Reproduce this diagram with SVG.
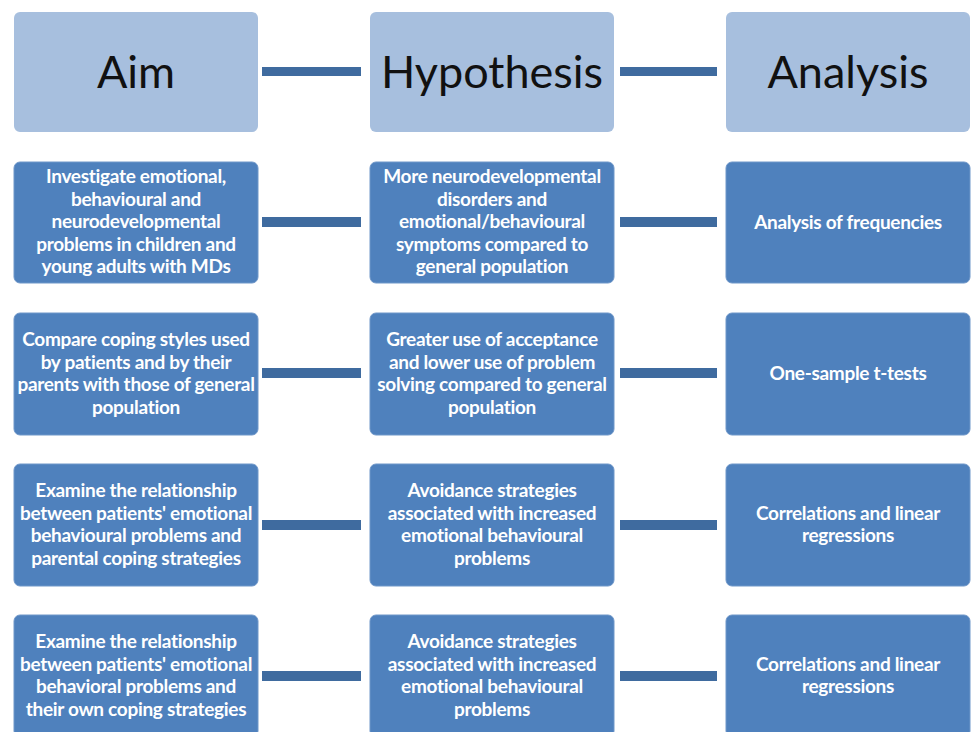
<svg xmlns="http://www.w3.org/2000/svg" width="972" height="732" viewBox="0 0 972 732">
  <style>
    .head { fill: #a7bfde; }
    .box { fill: #4f81bd; stroke: #6f97c9; stroke-width: 1; }
    .bar { fill: #3f6b9f; }
    .ht { font-family: Lato, "Liberation Sans", sans-serif; font-size: 45px; fill: #111111; text-anchor: middle; }
    .bt { font-family: Lato, "Liberation Sans", sans-serif; font-size: 19px; font-weight: bold; fill: #ffffff; text-anchor: middle; letter-spacing: -0.3px; }
  </style>
  <rect width="972" height="732" fill="#ffffff"/>

  <!-- connectors -->
  <g id="connectors">
    <rect class="bar" x="262" y="67" width="99" height="9"/>
    <rect class="bar" x="620" y="67" width="97" height="9"/>
    <rect class="bar" x="262" y="217" width="99" height="10"/>
    <rect class="bar" x="620" y="217" width="97" height="10"/>
    <rect class="bar" x="262" y="368" width="99" height="10"/>
    <rect class="bar" x="620" y="368" width="97" height="10"/>
    <rect class="bar" x="262" y="520" width="99" height="10"/>
    <rect class="bar" x="620" y="520" width="97" height="10"/>
    <rect class="bar" x="262" y="671" width="99" height="10"/>
    <rect class="bar" x="620" y="671" width="97" height="10"/>
  </g>

  <!-- header row -->
  <g id="aim">
    <rect class="head" x="14" y="12" width="244" height="120" rx="6"/>
    <text class="ht" x="136" y="88">Aim</text>
  </g>
  <g id="hypothesis">
    <rect class="head" x="370" y="12" width="244" height="120" rx="6"/>
    <text class="ht" x="492" y="88">Hypothesis</text>
  </g>
  <g id="analysis">
    <rect class="head" x="726" y="12" width="244" height="120" rx="6"/>
    <text class="ht" x="848" y="88">Analysis</text>
  </g>

  <!-- row 1 -->
  <g id="aim1">
    <rect class="box" x="14" y="162" width="244" height="121" rx="6"/>
    <text class="bt" x="136" y="183">Investigate emotional,</text>
    <text class="bt" x="136" y="205.5">behavioural and</text>
    <text class="bt" x="136" y="228">neurodevelopmental</text>
    <text class="bt" x="136" y="250.5">problems in children and</text>
    <text class="bt" x="136" y="273">young adults with MDs</text>
  </g>
  <g id="hyp1">
    <rect class="box" x="370" y="162" width="244" height="121" rx="6"/>
    <text class="bt" x="492" y="183">More neurodevelopmental</text>
    <text class="bt" x="492" y="205.5">disorders and</text>
    <text class="bt" x="492" y="228">emotional/behavioural</text>
    <text class="bt" x="492" y="250.5">symptoms compared to</text>
    <text class="bt" x="492" y="273">general population</text>
  </g>
  <g id="ana1">
    <rect class="box" x="726" y="162" width="244" height="121" rx="6"/>
    <text class="bt" x="848" y="229">Analysis of frequencies</text>
  </g>

  <!-- row 2 -->
  <g id="aim2">
    <rect class="box" x="14" y="313" width="244" height="122" rx="6"/>
    <text class="bt" x="136" y="346">Compare coping styles used</text>
    <text class="bt" x="136" y="368.5">by patients and by their</text>
    <text class="bt" x="136" y="391">parents with those of general</text>
    <text class="bt" x="136" y="413.5">population</text>
  </g>
  <g id="hyp2">
    <rect class="box" x="370" y="313" width="244" height="122" rx="6"/>
    <text class="bt" x="492" y="346">Greater use of acceptance</text>
    <text class="bt" x="492" y="368.5">and lower use of problem</text>
    <text class="bt" x="492" y="391">solving compared to general</text>
    <text class="bt" x="492" y="413.5">population</text>
  </g>
  <g id="ana2">
    <rect class="box" x="726" y="313" width="244" height="122" rx="6"/>
    <text class="bt" x="848" y="380">One-sample t-tests</text>
  </g>

  <!-- row 3 -->
  <g id="aim3">
    <rect class="box" x="14" y="464" width="244" height="122" rx="6"/>
    <text class="bt" x="136" y="497">Examine the relationship</text>
    <text class="bt" x="136" y="519.5">between patients' emotional</text>
    <text class="bt" x="136" y="542">behavioural problems and</text>
    <text class="bt" x="136" y="564.5">parental coping strategies</text>
  </g>
  <g id="hyp3">
    <rect class="box" x="370" y="464" width="244" height="122" rx="6"/>
    <text class="bt" x="492" y="497">Avoidance strategies</text>
    <text class="bt" x="492" y="519.5">associated with increased</text>
    <text class="bt" x="492" y="542">emotional behavioural</text>
    <text class="bt" x="492" y="564.5">problems</text>
  </g>
  <g id="ana3">
    <rect class="box" x="726" y="464" width="244" height="122" rx="6"/>
    <text class="bt" x="848" y="519.5">Correlations and linear</text>
    <text class="bt" x="848" y="542">regressions</text>
  </g>

  <!-- row 4 -->
  <g id="aim4">
    <rect class="box" x="14" y="615" width="244" height="122" rx="6"/>
    <text class="bt" x="136" y="648">Examine the relationship</text>
    <text class="bt" x="136" y="670.5">between patients' emotional</text>
    <text class="bt" x="136" y="693">behavioral problems and</text>
    <text class="bt" x="136" y="715.5">their own coping strategies</text>
  </g>
  <g id="hyp4">
    <rect class="box" x="370" y="615" width="244" height="122" rx="6"/>
    <text class="bt" x="492" y="648">Avoidance strategies</text>
    <text class="bt" x="492" y="670.5">associated with increased</text>
    <text class="bt" x="492" y="693">emotional behavioural</text>
    <text class="bt" x="492" y="715.5">problems</text>
  </g>
  <g id="ana4">
    <rect class="box" x="726" y="615" width="244" height="122" rx="6"/>
    <text class="bt" x="848" y="670.5">Correlations and linear</text>
    <text class="bt" x="848" y="693">regressions</text>
  </g>
</svg>
